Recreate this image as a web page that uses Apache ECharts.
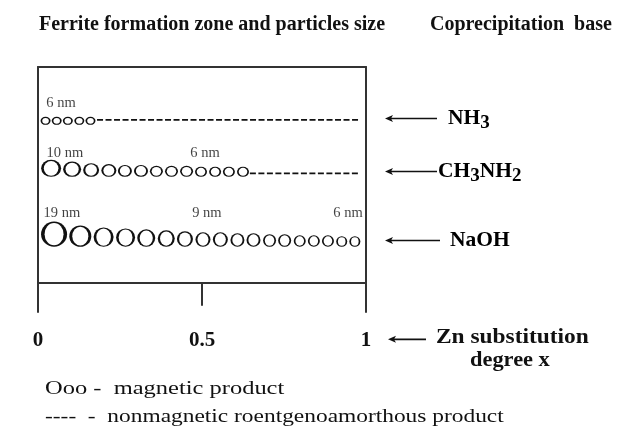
<!DOCTYPE html>
<html>
<head>
<meta charset="utf-8">
<script src="https://cdn.jsdelivr.net/npm/echarts@6/dist/echarts.min.js"></script>
<style>
html,body{margin:0;padding:0;background:#fff;}
#main{width:625px;height:433px;}
</style>
</head>
<body>
<div id="main"></div>
<script>
var serif = '"Liberation Serif", "Times New Roman", serif';
var ink = '#111';

// Zn substitution degree x: tick values
var xTicks = [0, 0.5, 1];

// rows (coprecipitation bases), level = baseline height in the zone box
var bases = ['NH3', 'CH3NH2', 'NaOH'];
var baseLevels = [7.32, 4.91, 1.67];
var dashLevels = [7.55, 5.07];

// magnetic product: position x of each particle and its glyph width
var nh3X = [0.023, 0.057, 0.091, 0.126, 0.160];
var nh3W = [10, 10, 10, 10, 10];
var ch3nh2X = [0.040, 0.104, 0.162, 0.216, 0.265, 0.314, 0.361, 0.407, 0.453, 0.497, 0.540, 0.582, 0.625];
var ch3nh2W = [20, 18, 16, 15, 14, 14, 13, 13, 13, 12, 12, 12, 12];
var naohX = [0.049, 0.129, 0.200, 0.267, 0.330, 0.391, 0.448, 0.503, 0.556, 0.608, 0.657, 0.706, 0.752, 0.798, 0.841, 0.884, 0.926, 0.966];
var naohW = [26, 22, 20, 19, 18, 17, 16, 15, 15, 14, 14, 13, 13, 12, 12, 12, 11, 11];

// nonmagnetic product: range of x for the dashed part
var nh3Dash = [0.180, 0.982];
var ch3nh2Dash = [0.646, 0.976];

// particle size labels
var sizeText = ['6 nm', '10 nm', '6 nm', '19 nm', '9 nm', '6 nm'];
var sizeX = [0.070, 0.082, 0.509, 0.073, 0.515, 0.945];
var sizeLevel = [8.34, 6.02, 6.02, 3.24, 3.24, 3.24];

function rowData(xs, ws, level, aspect) {
  var out = [];
  for (var i = 0; i < xs.length; i++) out.push([xs[i], level, ws[i], ws[i] * aspect]);
  return out;
}

// O glyph: thick sides, thin top/bottom
function renderO(params, api) {
  var p = api.coord([api.value(0), api.value(1)]);
  var w = api.value(2), h = api.value(3);
  var ts = Math.max(1.7, w * 0.135), tt = Math.max(1.1, h * 0.06);
  var cy = p[1] - h / 2;
  return {
    type: 'group',
    children: [
      {type: 'circle', shape: {cx: 0, cy: 0, r: 1}, x: p[0], y: cy, scaleX: w / 2, scaleY: h / 2, style: {fill: ink}},
      {type: 'circle', shape: {cx: 0, cy: 0, r: 1}, x: p[0], y: cy, scaleX: w / 2 - ts, scaleY: h / 2 - tt, style: {fill: '#fff'}}
    ]
  };
}

function dashSeries(range, level) {
  return {
    type: 'line', data: [[range[0], level], [range[1], level]],
    symbol: 'none', silent: true,
    lineStyle: {color: ink, width: 1.9, type: [6, 2.5]}
  };
}

var labelData = [];
for (var i = 0; i < sizeText.length; i++) labelData.push({name: sizeText[i], value: [sizeX[i], sizeLevel[i]]});

var chart = echarts.init(document.getElementById('main'));
var option = {
  backgroundColor: '#fff',
  animation: false,
  title: [
    {text: 'Ferrite formation zone and particles size', left: 34, top: 10,
      textStyle: {fontFamily: serif, fontWeight: 'bold', fontSize: 20, color: ink}},
    {text: 'Coprecipitation  base', left: 425, top: 10,
      textStyle: {fontFamily: serif, fontWeight: 'bold', fontSize: 20, color: ink}}
  ],
  grid: {left: 38, top: 67, width: 328, height: 245, show: false},
  xAxis: [{
    type: 'value', min: 0, max: 1, interval: 0.5,
    axisLine: {show: true, onZero: true, lineStyle: {color: '#333', width: 2}},
    axisTick: {show: true, length: 23, lineStyle: {color: '#333', width: 2}},
    axisLabel: {margin: 18, fontFamily: serif, fontWeight: 'bold', fontSize: 21, color: ink,
      formatter: function (v) { return xTicks.indexOf(v) >= 0 ? String(v) : ''; }},
    splitLine: {show: false}
  }, {
    type: 'value', min: 0, max: 1, position: 'top',
    axisLine: {show: true, onZero: false, lineStyle: {color: '#333', width: 2}},
    axisTick: {show: false}, axisLabel: {show: false}, splitLine: {show: false}
  }],
  yAxis: [{
    type: 'value', min: -1.35, max: 10, position: 'left',
    axisLine: {show: true, onZero: false, lineStyle: {color: '#333', width: 2}},
    axisTick: {show: false}, axisLabel: {show: false}, splitLine: {show: false}
  }, {
    type: 'value', min: -1.35, max: 10, position: 'right',
    axisLine: {show: true, onZero: false, lineStyle: {color: '#333', width: 2}},
    axisTick: {show: false}, axisLabel: {show: false}, splitLine: {show: false}
  }],
  series: [
    {type: 'custom', renderItem: renderO, data: rowData(nh3X, nh3W, baseLevels[0], 0.8)},
    {type: 'custom', renderItem: renderO, data: rowData(ch3nh2X, ch3nh2W, baseLevels[1], 0.85)},
    {type: 'custom', renderItem: renderO, data: rowData(naohX, naohW, baseLevels[2], 0.97)},
    dashSeries(nh3Dash, dashLevels[0]),
    dashSeries(ch3nh2Dash, dashLevels[1]),
    {
      type: 'scatter', data: labelData, symbolSize: 1, silent: true,
      itemStyle: {color: 'transparent'},
      label: {show: true, position: 'inside', formatter: '{b}', fontFamily: serif, fontSize: 14.5, color: ink}
    }
  ]
};
chart.setOption(option);

// arrows pointing to each base, and the axis caption
function arrow(x1, x2, y) {
  return [
    {type: 'line', shape: {x1: x1 + 5, y1: y, x2: x2, y2: y}, style: {stroke: ink, lineWidth: 1.6}},
    {type: 'polygon', shape: {points: [[x1, y], [x1 + 8, y - 3.5], [x1 + 6, y], [x1 + 8, y + 3.5]]}, style: {fill: ink}}
  ];
}
function txt(x, y, s, size, bold, sx) {
  return {type: 'text', x: x, y: y, scaleX: sx || 1,
    style: {text: s, fontFamily: serif, fontWeight: bold ? 'bold' : 'normal', fontSize: size, fill: ink, verticalAlign: 'middle'}};
}
var subRich = {
  b: {fontFamily: serif, fontWeight: 'bold', fontSize: 21.5, color: ink},
  s: {fontFamily: serif, fontWeight: 'bold', fontSize: 19, color: ink, padding: [9, 0, 0, 0]}
};
var baseRich = ['{b|NH}{s|3}', '{b|CH}{s|3}{b|NH}{s|2}', '{b|NaOH}'];
var baseGap = [63, 53, 65];
var arrowLen = [52, 52, 55];
var gfx = [];
for (var k = 0; k < bases.length; k++) {
  var p = chart.convertToPixel({gridIndex: 0}, [1, k < 2 ? dashLevels[k] : baseLevels[k] + 0.2]);
  var ay = Math.round(p[1]) - 2 + 0.5;
  gfx = gfx.concat(arrow(p[0] + 19, p[0] + 19 + arrowLen[k], ay));
  gfx.push({type: 'text', x: p[0] + 19 + baseGap[k], y: ay, style: {text: baseRich[k], rich: subRich, verticalAlign: 'middle'}});
}
var p1 = chart.convertToPixel({gridIndex: 0}, [1, 0]);
gfx = gfx.concat(arrow(p1[0] + 22, p1[0] + 60, p1[1] + 56.5));
gfx.push(txt(436, p1[1] + 55, 'Zn substitution', 20, true, 1.17));
gfx.push(txt(470, p1[1] + 78, 'degree x', 20, true, 1.12));
gfx.push(txt(45, 389, 'Ooo -  magnetic product', 18, false, 1.36));
gfx.push(txt(45, 417, '----  -  nonmagnetic roentgenoamorthous product', 18, false, 1.3));
chart.setOption({graphic: gfx});
</script>
</body>
</html>
